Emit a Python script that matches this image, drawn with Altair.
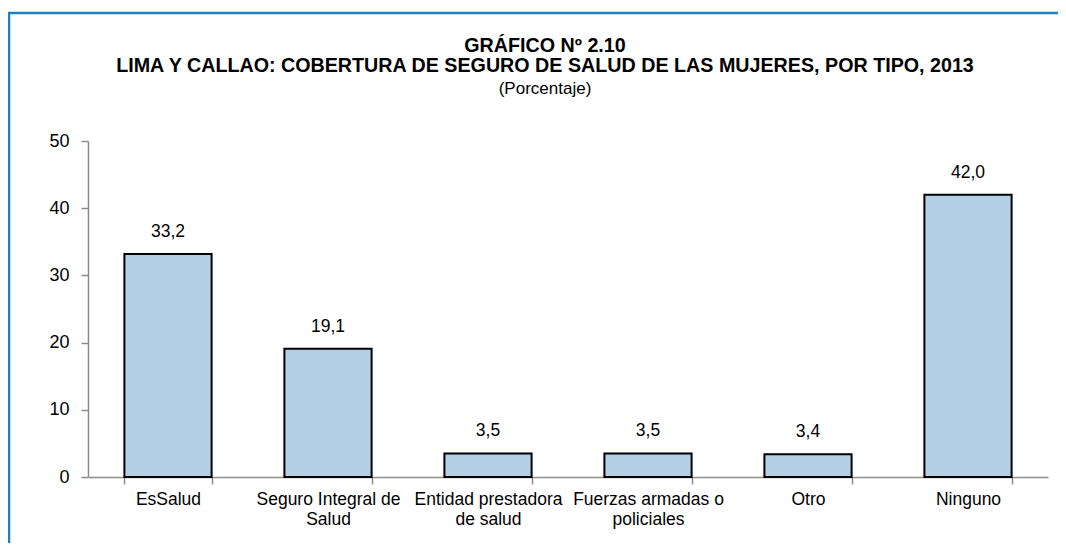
import altair as alt
import pandas as pd

categories = [
    "EsSalud",
    "Seguro Integral de\nSalud",
    "Entidad prestadora\nde salud",
    "Fuerzas armadas o\npoliciales",
    "Otro",
    "Ninguno",
]
values = [33.2, 19.1, 3.5, 3.5, 3.4, 42.0]
y_ticks = [0, 10, 20, 30, 40, 50]

title_lines = [
    "GRÁFICO Nº 2.10",
    "LIMA Y CALLAO: COBERTURA DE SEGURO DE SALUD DE LAS MUJERES, POR TIPO, 2013",
]
subtitle = "(Porcentaje)"

FONT = "Liberation Sans, Arial, sans-serif"
W, H = 960, 336

df = pd.DataFrame({"cat": categories, "val": values})

base = alt.Chart(df).transform_calculate(
    lbl="replace(format(datum.val, '.1f'), '.', ',')"
)

x = alt.X(
    "cat:N",
    sort=None,
    title=None,
    scale=alt.Scale(paddingInner=0.455, paddingOuter=0.2275),
    axis=alt.Axis(
        labelAngle=0,
        labelExpr="split(datum.label, '\\n')",
        tickBand="extent",
        tickSize=7,
        tickColor="#8c8c8c",
        tickWidth=1.5,
        domainColor="#8c8c8c",
        domainWidth=1.5,
        labelFont=FONT,
        labelFontSize=17.5,
        labelColor="#000000",
        labelPadding=6,
        labelLineHeight=20,
        labelBaseline="top",
    ),
)

y = alt.Y(
    "val:Q",
    title=None,
    scale=alt.Scale(domain=[0, 50], nice=False),
    axis=alt.Axis(
        values=y_ticks,
        grid=False,
        tickSize=7,
        tickColor="#8c8c8c",
        tickWidth=1.5,
        domainColor="#8c8c8c",
        domainWidth=1.5,
        labelFont=FONT,
        labelFontSize=18,
        labelColor="#000000",
        labelPadding=12,
    ),
)

bars = base.mark_bar(
    fill="#B3CEE5", stroke="#000000", strokeWidth=2
).encode(x=x, y=y)

labels = base.mark_text(
    font=FONT, fontSize=17.5, color="#000000", baseline="bottom", dy=-13
).encode(x=alt.X("cat:N", sort=None), y="val:Q", text="lbl:N")

border = alt.Chart(alt.Data(values=[{"a": 1}])).mark_rect(
    filled=False, stroke="#1F80BF", strokeWidth=2.5
).encode(
    x=alt.value(-79),
    x2=alt.value(W + 40),
    y=alt.value(-128),
    y2=alt.value(H + 120),
)

chart = alt.layer(border, bars, labels).properties(
    width=W,
    height=H,
    autosize=alt.AutoSizeParams(type="none"),
    padding={"left": 80, "top": 133, "right": 10, "bottom": 66},
    background="#ffffff",
    title=alt.Title(
        text=title_lines,
        subtitle=subtitle,
        font=FONT,
        fontSize=19.7,
        fontWeight="bold",
        lineHeight=20,
        subtitleFont=FONT,
        subtitleFontSize=17,
        subtitleColor="#000000",
        subtitlePadding=5,
        color="#000000",
        anchor="middle",
        dx=-23,
        offset=-85,
    ),
).configure_view(strokeWidth=0, stroke="transparent")

chart.save("out.html", embed_options={"renderer": "svg", "actions": False})
